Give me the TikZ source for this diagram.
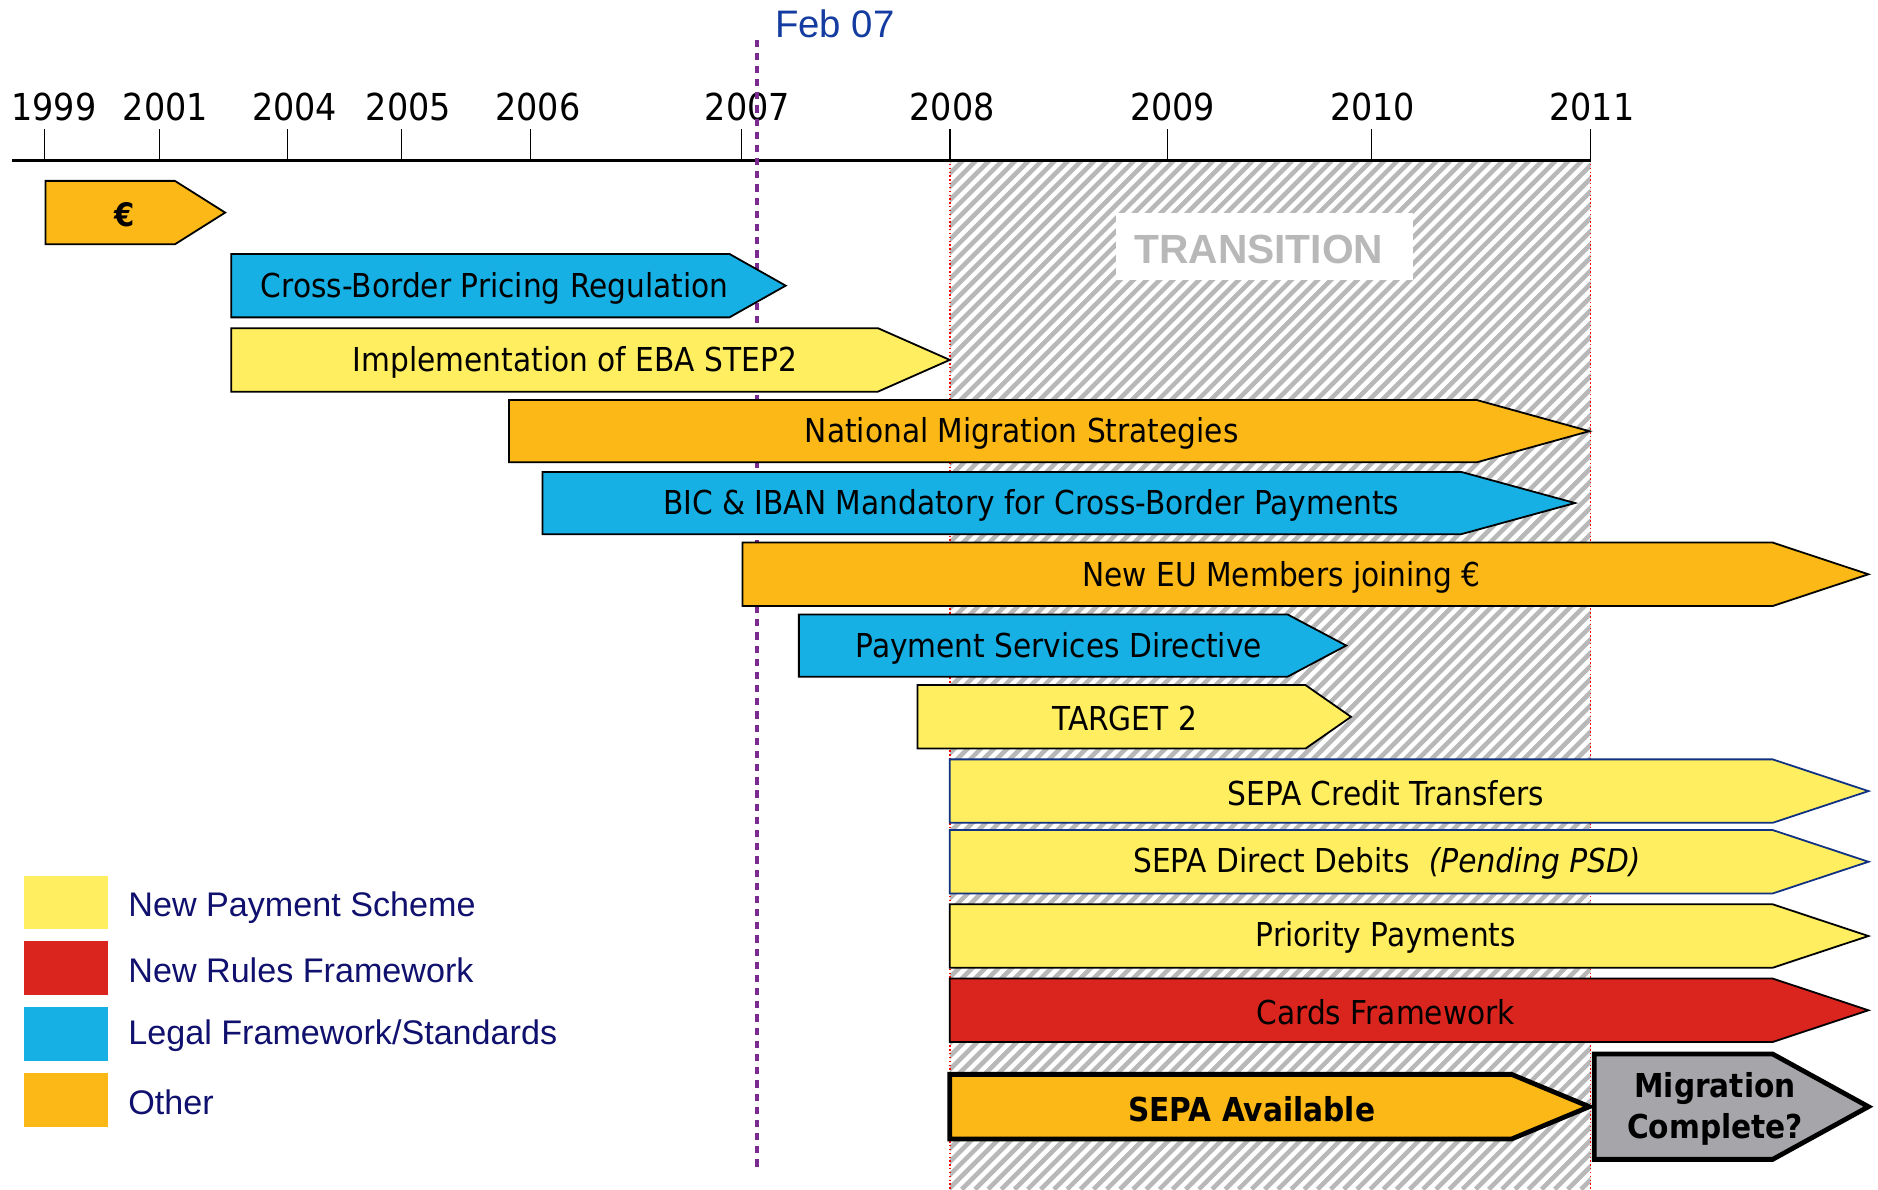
\documentclass[tikz,border=0pt]{standalone}
\usepackage{fontspec}
\usepackage{tikz}

\newfontfamily\tahoma[FakeStretch=0.9]{DejaVu Sans}
\newfontfamily\arial{Liberation Sans}

\definecolor{sepaorange}{RGB}{251,184,23}
\definecolor{sepablue}{RGB}{23,176,228}
\definecolor{sepayellow}{RGB}{255,238,95}
\definecolor{separed}{RGB}{218,37,31}
\definecolor{sepagray}{RGB}{166,166,170}
\definecolor{sepanavy}{RGB}{16,50,130}
\definecolor{legendnavy}{RGB}{16,16,110}
\definecolor{febblue}{RGB}{20,60,160}
\definecolor{febpurple}{RGB}{123,42,143}
\definecolor{hatchgray}{RGB}{184,184,184}

\begin{document}
\begin{tikzpicture}[x = 1pt, y = -1pt,
        bar/.style = {draw = black, line width = 1.5pt, line join = miter},
        bartext/.style = {font = \tahoma\fontsize{27.5}{30}\selectfont, inner sep = 0pt},
        year/.style = {font = \tahoma\fontsize{31}{33}\selectfont, inner sep = 0pt},
        legendtext/.style = {font = \arial\fontsize{28.5}{30}\selectfont, text = legendnavy, anchor = west, inner sep = 0pt}]
    \useasboundingbox (0,0) rectangle (1568,993);

    % transition period, hatched
    \begin{scope}
        \clip (793,136) rectangle (1328,993);
        \foreach \a in {-880,-869,...,1340}
            \draw[hatchgray, line width = 3.8pt] (\a,993) -- (\a+870,123);
    \end{scope}
    \draw[red, dotted, line width = 1.2pt] (793,108) -- (793,993);
    \draw[red, dotted, line width = 1.2pt] (1328,108) -- (1328,993);
    \fill[white] (932,178) rectangle (1180,234);
    \node[font = \arial\bfseries\fontsize{34}{36}\selectfont, text = hatchgray] (transition) at (1051,208) {TRANSITION};

    % time axis
    \draw[line width = 1.8pt] (10,134) -- (1328,134);
    \foreach \x/\lx/\yr in {37/45/1999, 133/138/2001, 240/246/2004, 335/341/2005, 443/449/2006, 619/624/2007, 793/795/2008, 975/979/2009, 1145/1146/2010, 1328/1329/2011}
    {
        \draw[line width = 1.2pt] (\x,108) -- (\x,134);
        \node[year] (y\yr) at (\lx,89) {\yr};
    }

    % Feb 07 marker
    \draw[febpurple, line width = 3pt, dash pattern = on 6pt off 5pt] (632,33) -- (632,978);
    \node[font = \arial\fontsize{32}{34}\selectfont, text = febblue] (feb) at (697,20) {Feb 07};

    % phases
    \draw[bar, fill = sepaorange] (38,151) -- (146,151) -- (188,177.5) -- (146,204) -- (38,204) -- cycle;
    \node[bartext, font = \tahoma\bfseries\fontsize{27}{30}\selectfont] (euro) at (104,179) {€};

    \draw[bar, fill = sepablue] (193,212) -- (609,212) -- (656,238.5) -- (609,265) -- (193,265) -- cycle;
    \node[bartext] (pricing) at (413,241) {Cross-Border Pricing Regulation};

    \draw[bar, fill = sepayellow] (193,274) -- (733,274) -- (793,300.5) -- (733,327) -- (193,327) -- cycle;
    \node[bartext] (step2) at (480,303) {Implementation of EBA STEP2};

    \draw[bar, fill = sepaorange] (425,334) -- (1233,334) -- (1327,360) -- (1233,386) -- (425,386) -- cycle;
    \node[bartext] (national) at (853,362) {National Migration Strategies};

    \draw[bar, fill = sepablue] (453,394) -- (1220,394) -- (1315,420) -- (1220,446) -- (453,446) -- cycle;
    \node[bartext] (bic) at (861,422) {BIC \& IBAN Mandatory for Cross-Border Payments};

    \draw[bar, fill = sepaorange] (620,453) -- (1480,453) -- (1560,479.5) -- (1480,506) -- (620,506) -- cycle;
    \node[bartext] (neweu) at (1070,482) {New EU Members joining €};

    \draw[bar, fill = sepablue] (667,513) -- (1075,513) -- (1124,539) -- (1075,565) -- (667,565) -- cycle;
    \node[bartext] (psd) at (884,541) {Payment Services Directive};

    \draw[bar, fill = sepayellow] (766,572) -- (1090,572) -- (1128,598.5) -- (1090,625) -- (766,625) -- cycle;
    \node[bartext] (target) at (939,600) {TARGET 2};

    \draw[bar, draw = sepanavy, fill = sepayellow] (793,634) -- (1480,634) -- (1560,660.5) -- (1480,687) -- (793,687) -- cycle;
    \node[bartext] (sct) at (1157,662) {SEPA Credit Transfers};

    \draw[bar, draw = sepanavy, fill = sepayellow] (793,693) -- (1480,693) -- (1560,719.5) -- (1480,746) -- (793,746) -- cycle;
    \node[bartext] (sdd) at (1158,721) {SEPA Direct Debits \ \textit{(Pending PSD)}};

    \draw[bar, fill = sepayellow] (793,755) -- (1480,755) -- (1560,781.5) -- (1480,808) -- (793,808) -- cycle;
    \node[bartext] (priority) at (1157,783) {Priority Payments};

    \draw[bar, fill = separed] (793,817) -- (1480,817) -- (1560,843.5) -- (1480,870) -- (793,870) -- cycle;
    \node[bartext] (cards) at (1157,845) {Cards Framework};

    \draw[bar, line width = 4pt, fill = sepaorange] (793,897) -- (1262,897) -- (1327,924) -- (1262,951) -- (793,951) -- cycle;
    \node[bartext, font = \tahoma\bfseries\fontsize{27.5}{30}\selectfont] (available) at (1045,926) {SEPA Available};

    \draw[bar, line width = 4pt, fill = sepagray] (1331,880) -- (1480,880) -- (1560,924) -- (1480,968) -- (1331,968) -- cycle;
    \node[bartext, font = \tahoma\bfseries\fontsize{27.5}{34}\selectfont, align = center] (complete) at (1432,926) {Migration\\Complete?};

    % legend
    \fill[sepayellow] (20,731) rectangle (90,776);
    \node[legendtext] (lgscheme) at (107,758) {New Payment Scheme};
    \fill[separed] (20,786) rectangle (90,831);
    \node[legendtext] (lgrules) at (107,810) {New Rules Framework};
    \fill[sepablue] (20,841) rectangle (90,886);
    \node[legendtext] (lglegal) at (107,865) {Legal Framework/Standards};
    \fill[sepaorange] (20,896) rectangle (90,941);
    \node[legendtext] (lgother) at (107,920) {Other};
\end{tikzpicture}
\end{document}
